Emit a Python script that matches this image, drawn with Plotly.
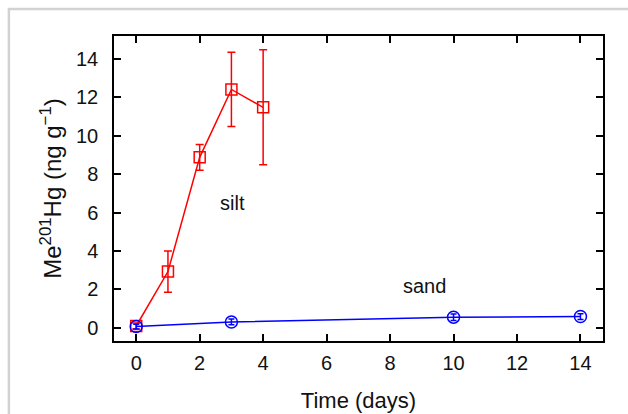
import plotly.graph_objects as go

# Data
silt_days = [0, 1, 2, 3, 4]
silt_mehg = [0.1, 2.93, 8.87, 12.4, 11.47]
silt_err = [0.15, 1.07, 0.67, 1.93, 2.99]

sand_days = [0, 3, 10, 14]
sand_mehg = [0.07, 0.31, 0.56, 0.59]
sand_err = [0.12, 0.15, 0.17, 0.15]

x_ticks = [0, 2, 4, 6, 8, 10, 12, 14]
y_ticks = [0, 2, 4, 6, 8, 10, 12, 14]

FONT = "Liberation Sans, Arial, sans-serif"

fig = go.Figure()
fig.add_trace(go.Scatter(
    x=silt_days, y=silt_mehg, mode="lines+markers", name="silt",
    line=dict(color="#ff0000", width=1.5),
    marker=dict(symbol="square-open", size=11, color="#ff0000", line=dict(width=1.5)),
    error_y=dict(type="data", array=silt_err, visible=True, color="#ff0000", thickness=1.5, width=4),
))
fig.add_trace(go.Scatter(
    x=sand_days, y=sand_mehg, mode="lines+markers", name="sand",
    line=dict(color="#0000ff", width=1.5),
    marker=dict(symbol="circle-open", size=12, color="#0000ff", line=dict(width=1.5)),
    error_y=dict(type="data", array=sand_err, visible=True, color="#0000ff", thickness=1.5, width=3),
))

fig.add_annotation(x=3.02, y=6.5, text="silt", showarrow=False,
                   font=dict(family=FONT, size=20, color="#111"))
fig.add_annotation(x=9.1, y=2.18, text="sand", showarrow=False,
                   font=dict(family=FONT, size=20, color="#111"))

# light grey frame around the image
fig.add_shape(type="path", xref="paper", yref="paper",
              path="M -0.215,-0.3 L -0.215,1.0885 L 1.1,1.0885",
              line=dict(color="#d2d2d2", width=2.5))

axis_common = dict(
    showline=True, linecolor="black", linewidth=1.5, mirror="ticks",
    ticks="inside", ticklen=7, tickwidth=1.5, tickcolor="black",
    showgrid=False, zeroline=False, automargin=False,
    tickfont=dict(family=FONT, size=20, color="#111"),
)

fig.update_layout(
    width=628, height=414,
    margin=dict(l=114, r=25, t=36, b=73),
    paper_bgcolor="white", plot_bgcolor="white",
    showlegend=False,
    font=dict(family=FONT),
    xaxis=dict(range=[-0.7, 14.71], tickvals=x_ticks, ticklabelstandoff=3,
               title=dict(text="Time (days)", font=dict(family=FONT, size=22, color="#111"), standoff=20),
               **axis_common),
    yaxis=dict(range=[-0.68, 15.18], tickvals=y_ticks, ticklabelstandoff=10,
               title=dict(text="Me<sup>201</sup>Hg (ng g<sup>\u22121</sup>)",
                          font=dict(family=FONT, size=24, color="#111"), standoff=8),
               **axis_common),
)

fig.write_html("out.html", config={"displayModeBar": False},
               post_script="document.body.style.margin='0px';document.body.style.overflow='hidden';")
